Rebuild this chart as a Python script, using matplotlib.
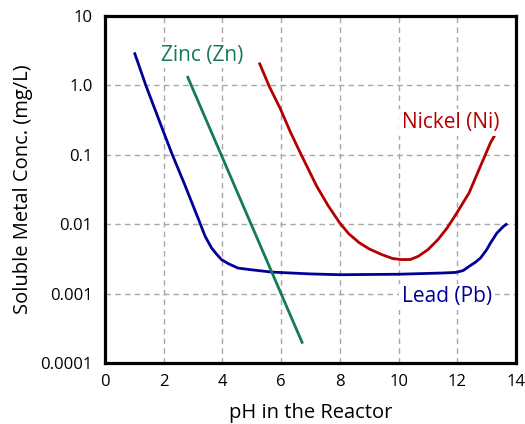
#!/usr/bin/env python3
"""
Soluble metal concentration vs pH in the reactor (Pb, Zn, Ni).
"""
import matplotlib
matplotlib.use("Agg")
import matplotlib.pyplot as plt
from matplotlib.ticker import NullLocator

# --- data ----------------------------------------------------------------------------------------
LEAD_PH = [1.0, 1.4, 1.96, 2.29, 2.69, 3.19, 3.41, 3.63, 3.8, 3.97, 4.2, 4.53, 5.0, 5.68, 7.0, 8.0,
           10.0, 11.5, 11.95, 12.2, 12.4, 12.6, 12.79, 13.0, 13.13, 13.35, 13.57, 13.7]
LEAD_C = [3.0, 0.98, 0.233, 0.101, 0.0395, 0.0116, 0.0067, 0.00454, 0.0037, 0.00308, 0.0027,
          0.00233, 0.0022, 0.00204, 0.00192, 0.00187, 0.0019, 0.00198, 0.00202, 0.00215, 0.00247,
          0.0028, 0.00326, 0.0043, 0.00537, 0.00748, 0.0093, 0.0102]

ZINC_PH = [2.8, 6.73]
ZINC_C = [1.37, 0.00019]

NICKEL_PH = [5.25, 5.6, 5.98, 6.3, 6.65, 7.21, 7.6, 7.99, 8.3, 8.66, 9.0, 9.44, 9.8, 10.11, 10.4,
             10.67, 11.0, 11.34, 11.65, 11.95, 12.4, 12.74, 13.13, 13.3]
NICKEL_C = [2.14, 0.96, 0.453, 0.22, 0.107, 0.0353, 0.0185, 0.0105, 0.0073, 0.0054, 0.0044,
            0.00363, 0.0032, 0.00309, 0.0031, 0.00345, 0.0043, 0.006, 0.0088, 0.0138, 0.0283,
            0.0617, 0.15, 0.2]

LABELS = ["Zinc (Zn)", "Nickel (Ni)", "Lead (Pb)"]
LABEL_X = [3.3, 11.76, 11.64]
LABEL_Y = [2.73, 0.294, 0.0009]
LABEL_COLOURS = ["#147a5a", "#b40000", "#000096"]

YTICKS = [0.0001, 0.001, 0.01, 0.1, 1.0, 10]
YTICKLABELS = ["0.0001", "0.001", "0.01", "0.1", "1.0", "10"]
XTICKS = [0, 2, 4, 6, 8, 10, 12, 14]

plt.rcParams["font.family"] = ["Open Sans", "DejaVu Sans"]

fig = plt.figure(figsize=(5.25, 4.24), dpi=100)
ax = fig.add_axes([0.2, 0.144, 0.783, 0.818])

ax.plot(LEAD_PH, LEAD_C, color="#000096", lw=2, zorder=3, solid_capstyle="butt")
ax.plot(ZINC_PH, ZINC_C, color="#147a5a", lw=2, zorder=3, solid_capstyle="butt")
ax.plot(NICKEL_PH, NICKEL_C, color="#b40000", lw=2, zorder=3, solid_capstyle="butt")

for text, x, y, col in zip(LABELS, LABEL_X, LABEL_Y, LABEL_COLOURS):
    ax.text(x, y, text, color=col, fontsize=15, ha="center", va="center", zorder=4,
            bbox=dict(facecolor="white", edgecolor="none", pad=2))

ax.set_yscale("log")
ax.set_xlim(0, 14)
ax.set_ylim(0.0001, 10)
ax.set_yticks(YTICKS)
ax.set_yticklabels(YTICKLABELS)
ax.yaxis.set_minor_locator(NullLocator())
ax.set_xticks(XTICKS)
ax.tick_params(length=0, labelsize=12)
ax.tick_params(axis="y", pad=9)
ax.tick_params(axis="x", pad=8)
ax.grid(True, color="#a8a8a8", linestyle=(0, (4, 3)), lw=1)
for s in ax.spines.values():
    s.set_linewidth(2.3)
    s.set_zorder(5)

ax.set_xlabel("pH in the Reactor", fontsize=14.5, labelpad=9)
ax.set_ylabel("Soluble Metal Conc. (mg/L)", fontsize=14.5, labelpad=5)

fig.savefig("out.png", facecolor="white")
